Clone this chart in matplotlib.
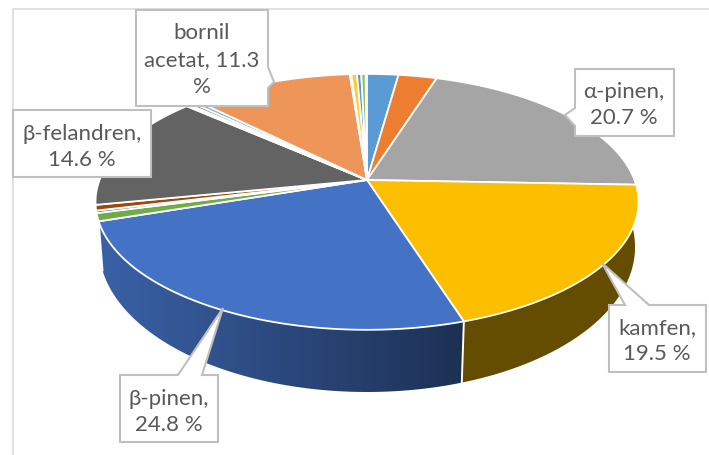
import matplotlib
matplotlib.use("Agg")
import matplotlib.pyplot as plt
from matplotlib.colors import to_rgb
from matplotlib.patches import Polygon
import numpy as np

plt.rcParams['font.family'] = ['Lato', 'DejaVu Sans']

# podily slozek v %, pocitano po smeru hodin od 12 hodin
hodnoty = [2.2, 2.7, 20.7, 19.5, 24.8, 1.0, 0.3, 0.7, 14.6, 0.1, 0.2, 0.3, 0.4, 11.3, 0.1, 0.4, 0.3, 0.3]
barvy = ['#5B9BD5', '#ED7D31', '#A5A5A5', '#FBBF00', '#4472C4', '#70AD47', '#255E91', '#9E480E', '#636363',
         '#997300', '#264478', '#43682B', '#7CAFDD', '#EE9659', '#B7B7B7', '#FFCD33', '#698ED0', '#8CC168']

# popisky: text, stred textu, ramecek, vrcholy obrysu s ukazatelem
popisky = ['bornil\nacetat, 11.3\n%', 'β-felandren,\n14.6 %', 'α-pinen,\n20.7 %', 'kamfen,\n19.5 %', 'β-pinen,\n24.8 %']
pozice = [(202, 60), (82, 147), (624, 105), (657, 341), (169, 412)]
obrysy = [
    [(136, 11), (268, 11), (268, 68), (274, 83), (268, 89), (268, 107), (136, 107)],
    [(13, 111), (151, 111), (151, 178), (13, 178)],
    [(575, 70), (674, 70), (674, 137), (575, 137), (575, 127), (565, 116), (575, 109)],
    [(609, 306), (625, 306), (602, 264), (649, 306), (706, 306), (706, 373), (609, 373)],
    [(120, 376), (178, 376), (223, 309), (202, 376), (218, 376), (218, 443), (120, 443)],
]


def horni(t, n=1.0):
    # perspektiva horni plochy
    x, y = n * np.sin(t), n * np.cos(t)
    d = 1 + 0.171 * y
    return 367 + 267.5 * x / d, 181 - 124.2 * y / d


def dolni(t):
    x, y = np.sin(t), np.cos(t)
    d = 1 + 0.162 * y
    return 367 + 264.5 * x / d, 224.5 - 141.2 * y / d


fig = plt.figure(figsize=(7.09, 4.56), dpi=100)
ax = fig.add_axes([0, 0, 1, 1])

# ramecek grafu
ax.plot([13, 13, 709], [456, 10, 10], color='#D9D9D9', lw=1.1)

hrany = np.radians(np.concatenate([[0], np.cumsum(hodnoty)]) * 3.6)

# bocni stena, jen predni dilky
for i in range(len(hodnoty)):
    a, b = hrany[i], hrany[i + 1]
    if not (np.pi / 2 < (a + b) / 2 < np.radians(255)) or hodnoty[i] < 5:
        continue
    t = np.linspace(a, b, 100)
    x1, y1 = horni(t)
    x2, y2 = dolni(t)
    pts = np.column_stack([np.r_[x1, x2[::-1]], np.r_[y1, y2[::-1]]])
    stena = Polygon(pts, closed=True, fc='none', ec='none')
    ax.add_patch(stena)
    xs = np.arange(int(pts[:, 0].min()) - 1, int(pts[:, 0].max()) + 2)
    ramp = np.interp(xs, [100, 460, 461, 636], [0.85, 0.43, 0.40, 0.40])
    img = np.outer(ramp, to_rgb(barvy[i]))[np.newaxis, :, :]
    im = ax.imshow(img, extent=[xs[0], xs[-1], 400, 180], aspect='auto', interpolation='bilinear')
    im.set_clip_path(stena)
    ax.plot([x1[-1], x2[-1]], [y1[-1], y2[-1]], color='white', lw=1.4)

# horni plocha
for i in range(len(hodnoty)):
    t = np.linspace(hrany[i], hrany[i + 1], 60)
    x, y = horni(t)
    cx, cy = horni(0.0, 0.0)
    ax.fill(np.r_[cx, x], np.r_[cy, y], fc=barvy[i], ec='white', lw=1.3, joinstyle='round')

# popisky
for text, (tx, ty), obrys in zip(popisky, pozice, obrysy):
    ax.add_patch(Polygon(obrys, closed=True, fc='white', ec='#BFBFBF', lw=1.5, zorder=5))
    ax.text(tx, ty, text, ha='center', va='center', fontsize=16, color='#595959',
            linespacing=1.42, zorder=6)

ax.set_xlim(0, 709)
ax.set_ylim(456, 0)
ax.axis('off')

fig.savefig('out.png', dpi=100)
